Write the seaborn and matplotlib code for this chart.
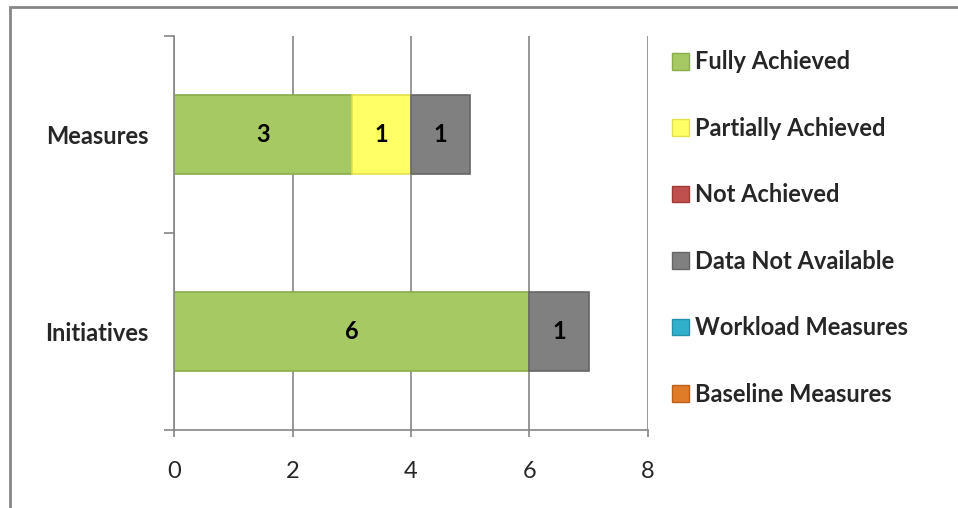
import matplotlib
matplotlib.use("Agg")
import matplotlib.pyplot as plt
import matplotlib.patches as mpatches
import seaborn as sns
import pandas as pd

categories = ["Measures", "Initiatives"]
statuses = ["Fully Achieved", "Partially Achieved", "Not Achieved",
            "Data Not Available", "Workload Measures", "Baseline Measures"]
fully = [3, 6]
partially = [1, 0]
not_achieved = [0, 0]
no_data = [1, 1]
workload = [0, 0]
baseline = [0, 0]

colors = ["#A6C964", "#FFFF66", "#C0504D", "#808080", "#31B0CC", "#E07B2A"]
edges = ["#8AAD48", "#E0E050", "#9E3A37", "#666666", "#2590A8", "#B8601C"]

series = [fully, partially, not_achieved, no_data, workload, baseline]
rows = []
for s, vals in zip(statuses, series):
    for c, v in zip(categories, vals):
        rows.append({"category": c, "status": s, "value": v})
df = pd.DataFrame(rows)
df["left"] = df.groupby("category")["value"].cumsum() - df["value"]

sns.set_theme(style="white")
plt.rcParams["font.family"] = ["Lato", "DejaVu Sans"]

fig = plt.figure(figsize=(9.58, 5.08), dpi=100)
ax = fig.add_axes([174 / 958, 1 - 430 / 508, (648 - 174) / 958, (430 - 36) / 508])

# stacked horizontal bars, one call per status
for s, col, ec in zip(statuses, colors, edges):
    sub = df[(df["status"] == s) & (df["value"] > 0)]
    if sub.empty:
        continue
    sns.barplot(data=sub, x="value", y="category", order=categories, orient="h",
                left=sub["left"].values, color=col, width=0.4, edgecolor=ec,
                linewidth=1.2, saturation=1, ax=ax)
    ax.bar_label(ax.containers[-1], label_type="center", fontsize=17,
                 fontweight="bold", color="black")

ax.set_xlim(0, 8)
ax.set_ylim(1.5, -0.5)
ax.set_xticks([0, 2, 4, 6, 8])
ax.set_xticklabels(["0", "2", "4", "6", "8"], fontsize=17)
ax.set_yticks([0, 1])
ax.set_yticklabels(categories, fontsize=17, fontweight="bold")
ax.set_yticks([-0.5, 0.5, 1.5], minor=True)
ax.tick_params(axis="y", which="major", length=0, pad=18.5)
ax.tick_params(axis="y", which="minor", length=7, color="#868686", width=1.2, left=True)
ax.tick_params(axis="x", length=5, color="#868686", width=1.2, pad=17, bottom=True)
ax.set_xlabel("")
ax.set_ylabel("")
ax.grid(axis="x", color="#868686", linewidth=1.2)
ax.set_axisbelow(True)
for side in ["top", "right"]:
    ax.spines[side].set_visible(False)
for side in ["left", "bottom"]:
    ax.spines[side].set_color("#868686")
    ax.spines[side].set_linewidth(1.2)

handles = [mpatches.Patch(facecolor=c, edgecolor=e, linewidth=1) for c, e in zip(colors, edges)]
fig.legend(handles, statuses, loc="upper left", bbox_to_anchor=(663 / 958, 1 - 41 / 508),
           frameon=False, prop={"size": 17, "weight": "bold"}, handlelength=0.72,
           handleheight=0.72, handletextpad=0.25, labelspacing=1.84, borderaxespad=0)

fig.patches.append(mpatches.Rectangle((9.5 / 958, -0.1), 1.2, 1 - 7 / 508 + 0.1,
                                      transform=fig.transFigure, fill=False,
                                      edgecolor="#868686", linewidth=2))

fig.savefig("out.png", dpi=100)
